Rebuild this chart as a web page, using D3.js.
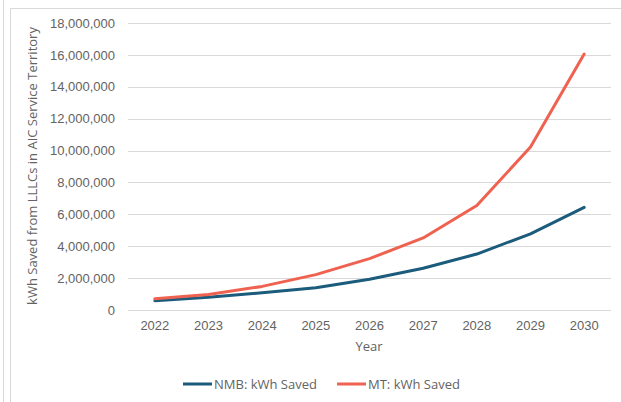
<!DOCTYPE html>
<html>
<head>
<meta charset="utf-8">
<script src="https://cdn.jsdelivr.net/npm/d3@7"></script>
<style>
  html, body { margin: 0; padding: 0; background: #fff; }
  svg { display: block; font-family: "Open Sans", "Noto Sans", sans-serif; }
</style>
</head>
<body>
<svg id="chart" width="621" height="402"></svg>
<script>
// Annual kWh savings from LLLCs, by scenario
const years = ["2022", "2023", "2024", "2025", "2026", "2027", "2028", "2029", "2030"];
const nmbSaved = [580000, 800000, 1080000, 1400000, 1930000, 2620000, 3510000, 4780000, 6440000];
const mtSaved = [700000, 970000, 1480000, 2220000, 3220000, 4520000, 6550000, 10220000, 16050000];
const yTicks = [0, 2000000, 4000000, 6000000, 8000000, 10000000, 12000000, 14000000, 16000000, 18000000];
const seriesNames = ["NMB: kWh Saved", "MT: kWh Saved"];
const seriesColors = ["#1b5b7c", "#ef6250"];

const svg = d3.select("#chart");
const textColor = "#636363";
const gridColor = "#d9d9d9";

// outer frame lines
svg.append("line").attr("x1", 3.5).attr("x2", 3.5).attr("y1", 0).attr("y2", 402)
  .attr("stroke", gridColor);
svg.append("path").attr("d", "M10.5,402 V8.5 H621")
  .attr("fill", "none").attr("stroke", gridColor);

const margin = { left: 128, right: 10, top: 23, bottom: 92 };
const plotW = 611 - margin.left;
const plotH = 310 - margin.top;

const g = svg.append("g").attr("transform", `translate(${margin.left},${margin.top})`);

const x = d3.scaleBand().domain(years).range([0, plotW]);
const y = d3.scaleLinear().domain([0, 18000000]).range([plotH, 0]);

// horizontal gridlines
g.append("g").selectAll("line").data(yTicks).join("line")
  .attr("x1", 0).attr("x2", plotW)
  .attr("y1", d => Math.round(y(d)) + 0.5).attr("y2", d => Math.round(y(d)) + 0.5)
  .attr("stroke", gridColor).attr("stroke-width", 1);

// y axis labels
const yAxis = g.append("g").call(d3.axisLeft(y).tickValues(yTicks).tickFormat(d3.format(",")).tickSize(0).tickPadding(13));
yAxis.select(".domain").remove();
yAxis.selectAll("text").attr("fill", textColor).style("font-size", "13px");

// x axis labels
const xAxis = g.append("g").attr("transform", `translate(0,${plotH})`)
  .call(d3.axisBottom(x).tickSize(0).tickPadding(11));
xAxis.select(".domain").remove();
xAxis.selectAll("text").attr("fill", textColor).style("font-size", "13px");

// axis titles
svg.append("text").attr("x", 369).attr("y", 351).attr("text-anchor", "middle")
  .attr("fill", textColor).style("font-size", "13px").text("Year");
svg.append("text").attr("transform", "translate(37,166) rotate(-90)").attr("text-anchor", "middle")
  .attr("fill", textColor).style("font-size", "13px").text("kWh Saved from LLLCs in AIC Service Territory");

// series lines
const line = d3.line()
  .x((d, i) => x(years[i]) + x.bandwidth() / 2)
  .y(d => y(d))
  .curve(d3.curveLinear);

[nmbSaved, mtSaved].forEach((vals, i) => {
  g.append("path").datum(vals)
    .attr("fill", "none")
    .attr("stroke", seriesColors[i])
    .attr("stroke-width", 3)
    .attr("stroke-linejoin", "round")
    .attr("stroke-linecap", "round")
    .attr("d", line);
});

// legend
const legendX = [183, 337];
seriesNames.forEach((name, i) => {
  const lg = svg.append("g").attr("transform", `translate(${legendX[i]},384)`);
  lg.append("line").attr("x1", 0).attr("x2", 29).attr("y1", 0).attr("y2", 0)
    .attr("stroke", seriesColors[i]).attr("stroke-width", 3);
  lg.append("text").attr("x", 31).attr("y", 4.5).attr("fill", textColor)
    .style("font-size", "13px").text(name);
});
</script>
</body>
</html>
